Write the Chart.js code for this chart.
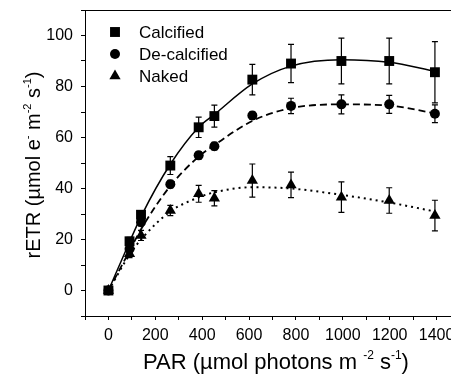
<!DOCTYPE html>
<html>
<head>
<meta charset="utf-8">
<script src="https://cdn.jsdelivr.net/npm/chart.js@4/dist/chart.umd.min.js"></script>
<style>
  html, body { margin: 0; padding: 0; background: #fff; overflow: hidden; }
  #wrap { width: 451px; height: 376px; overflow: hidden; }
</style>
</head>
<body>
<div id="wrap"><canvas id="chart" width="467" height="376"></canvas></div>
<script>
// PAR levels (x) and measured rETR per treatment
const par = [0, 90, 139, 264, 385, 452, 614, 779, 994, 1198, 1393];
const seriesNames = ['Calcified', 'De-calcified', 'Naked'];

const calcified    = [0, 19.3, 29.7, 49, 64, 68.4, 82.7, 89, 90, 90, 85.6];
const calcifiedErr = [0, 1.5, 1.5, 3.5, 4, 4.3, 6, 7.5, 9, 9, 12];
const decalc       = [0, 16.3, 26.8, 41.7, 53, 56.6, 68.6, 72.4, 73, 73, 69.3];
const decalcErr    = [0, 1.5, 1.5, 1.5, 1.5, 1.5, 1.5, 3, 3.7, 3.5, 3.5];
const naked        = [0, 14.4, 21.6, 31.4, 37.9, 36.2, 43.1, 41.4, 36.6, 35.3, 29.4];
const nakedErr     = [0, 1.5, 2, 2, 3.3, 3, 6.5, 5, 6, 5, 6];

// fitted curves at the same PAR levels
const calcifiedFit = [0, 19, 29, 49.5, 64, 69, 81, 88, 90.5, 89.5, 86];
const decalcFit    = [0, 15.5, 24, 41, 52.5, 57, 66.5, 71.5, 73, 72.5, 69.5];
const nakedFit     = [0, 14, 20, 31, 36.5, 38.5, 40.5, 40, 37.5, 34.5, 31];

const xTicks = [0, 200, 400, 600, 800, 1000, 1200, 1400];
const yTicks = [0, 20, 40, 60, 80, 100];

const FONT = "'Liberation Sans', Arial, sans-serif";
const toPts = (vals) => par.map((x, i) => ({ x: x, y: vals[i] }));

const markers = [
    { style: 'rect', radius: 7 },
    { style: 'circle', radius: 5 },
    { style: 'triangle', radius: 6.5 }
];

// draws text with raised small parts, centred on (0,0) of the current transform
const drawRich = (ctx, parts, size) => {
    const supSize = Math.round(size * 0.55);
    let total = 0;
    parts.forEach(p => {
        ctx.font = (p.sup ? supSize : size) + 'px ' + FONT;
        p.w = ctx.measureText(p.t).width;
        total += p.w;
    });
    let x = -total / 2;
    ctx.textBaseline = 'alphabetic';
    ctx.textAlign = 'left';
    parts.forEach(p => {
        ctx.font = (p.sup ? supSize : size) + 'px ' + FONT;
        ctx.fillText(p.t, x, p.sup ? -size * 0.45 : 0);
        x += p.w;
    });
};

const drawMarker = (ctx, style, r, x, y) => {
    ctx.beginPath();
    if (style === 'rect') {
        const s = r * Math.SQRT1_2;
        ctx.rect(x - s, y - s, 2 * s, 2 * s);
    } else if (style === 'circle') {
        ctx.arc(x, y, r, 0, Math.PI * 2);
    } else {
        ctx.moveTo(x, y - r);
        ctx.lineTo(x + r * Math.sin(2 * Math.PI / 3), y + r * 0.5);
        ctx.lineTo(x - r * Math.sin(2 * Math.PI / 3), y + r * 0.5);
        ctx.closePath();
    }
    ctx.fill();
};

const decorPlugin = {
    id: 'decor',
    afterDatasetsDraw(chart) {
        const ctx = chart.ctx;
        const xs = chart.scales.x, ys = chart.scales.y;
        const area = chart.chartArea;

        // error bars
        ctx.save();
        ctx.strokeStyle = '#000';
        ctx.lineWidth = 1.2;
        [[calcified, calcifiedErr], [decalc, decalcErr], [naked, nakedErr]].forEach(([vals, errs]) => {
            vals.forEach((v, i) => {
                const e = errs[i];
                if (!e) return;
                const px = xs.getPixelForValue(par[i]);
                const top = ys.getPixelForValue(v + e);
                const bot = ys.getPixelForValue(v - e);
                ctx.beginPath();
                ctx.moveTo(px, top); ctx.lineTo(px, bot);
                ctx.moveTo(px - 3, top); ctx.lineTo(px + 3, top);
                ctx.moveTo(px - 3, bot); ctx.lineTo(px + 3, bot);
                ctx.stroke();
            });
        });

        // top frame line
        ctx.lineWidth = 1;
        ctx.beginPath();
        ctx.moveTo(area.left, area.top + 0.5);
        ctx.lineTo(area.right, area.top + 0.5);
        ctx.stroke();

        // legend inside the plot
        ctx.fillStyle = '#000';
        seriesNames.forEach((name, i) => {
            const y = 32 + i * 22;
            drawMarker(ctx, markers[i].style, markers[i].radius, 115, y);
            ctx.font = '17px ' + FONT;
            ctx.textAlign = 'left';
            ctx.textBaseline = 'middle';
            ctx.fillText(name, 139, y + 1);
        });

        // axis titles
        ctx.save();
        ctx.translate(276, 369);
        drawRich(ctx, [
            { t: 'PAR (' }, { t: 'µ' }, { t: 'mol photons m ' }, { t: '-2', sup: true },
            { t: ' s' }, { t: '-1', sup: true }, { t: ')' }
        ], 22);
        ctx.restore();

        ctx.save();
        ctx.translate(40, 165);
        ctx.rotate(-Math.PI / 2);
        drawRich(ctx, [
            { t: 'rETR (' }, { t: 'µ' }, { t: 'mol e' }, { t: '-', sup: true },
            { t: ' m' }, { t: '-2', sup: true }, { t: ' s' }, { t: '-1', sup: true }, { t: ')' }
        ], 20);
        ctx.restore();

        ctx.restore();
    }
};

const pointSet = (label, vals, m) => ({
    type: 'scatter',
    label: label,
    data: toPts(vals),
    pointStyle: m.style,
    pointRadius: m.radius,
    pointBackgroundColor: '#000',
    pointBorderColor: '#000',
    pointBorderWidth: 0,
    showLine: false,
    order: 0
});

const fitSet = (vals, dash, width) => ({
    type: 'line',
    data: toPts(vals),
    borderColor: '#000',
    borderWidth: width,
    borderDash: dash,
    pointRadius: 0,
    fill: false,
    cubicInterpolationMode: 'monotone',
    order: 1
});

new Chart(document.getElementById('chart'), {
    type: 'scatter',
    data: {
        datasets: [
            pointSet(seriesNames[0], calcified, markers[0]),
            pointSet(seriesNames[1], decalc, markers[1]),
            pointSet(seriesNames[2], naked, markers[2]),
            fitSet(calcifiedFit, [], 1.5),
            fitSet(decalcFit, [7, 4], 1.8),
            fitSet(nakedFit, [2, 4], 2)
        ]
    },
    options: {
        responsive: false,
        animation: false,
        layout: { padding: { top: 10, right: 0, left: 0, bottom: 0 } },
        plugins: {
            legend: { display: false },
            tooltip: { enabled: false }
        },
        scales: {
            x: {
                type: 'linear',
                min: -100,
                max: 1500,
                afterFit: (s) => { s.height = 60; },
                border: { display: true, color: '#000', width: 1 },
                grid: { drawOnChartArea: false, drawTicks: true, tickLength: 4, color: '#000' },
                ticks: {
                    stepSize: 100,
                    autoSkip: false,
                    maxRotation: 0,
                    padding: 6,
                    color: '#000',
                    font: { family: FONT, size: 16 },
                    callback: (v) => xTicks.includes(v) ? String(v) : ''
                }
            },
            y: {
                min: -10,
                max: 110,
                afterFit: (s) => { s.width = 85; s.paddingTop = 0; s.paddingBottom = 0; },
                border: { display: true, color: '#000', width: 1 },
                grid: { drawOnChartArea: false, drawTicks: true, tickLength: 4, color: '#000' },
                ticks: {
                    stepSize: 10,
                    autoSkip: false,
                    padding: 8,
                    color: '#000',
                    font: { family: FONT, size: 16 },
                    callback: (v) => yTicks.includes(v) ? String(v) : ''
                }
            }
        }
    },
    plugins: [decorPlugin]
});
</script>
</body>
</html>
